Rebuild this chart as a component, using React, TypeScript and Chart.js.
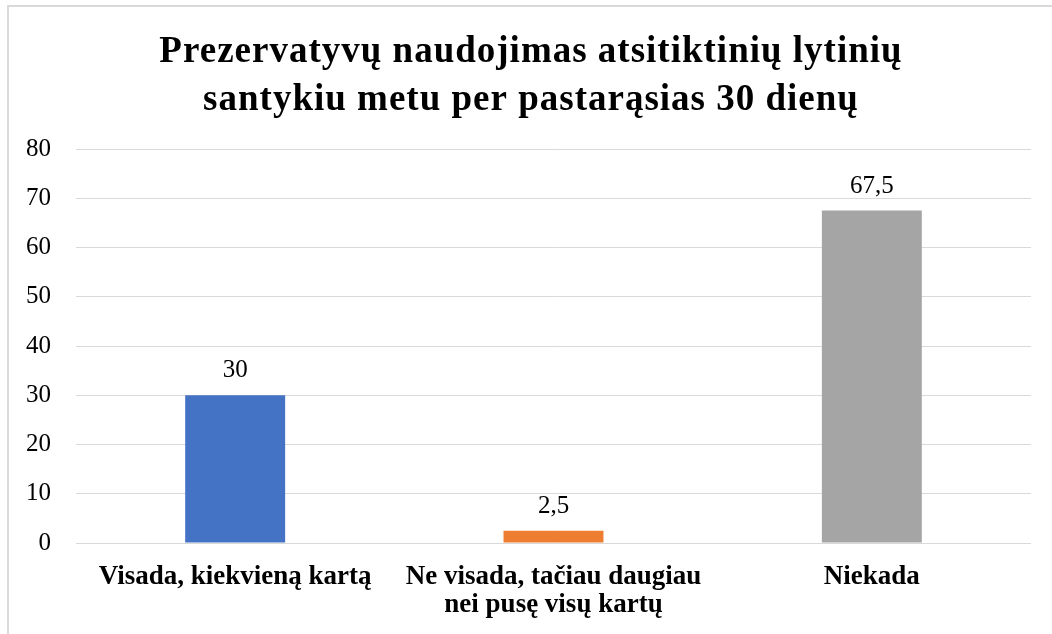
import React, { useEffect, useRef } from "react";
import { Chart, registerables } from "chart.js";

Chart.register(...registerables);

const titleLines = ["Prezervatyvų naudojimas atsitiktinių lytinių", "santykiu metu per pastarąsias 30 dienų"];
const categories: (string | string[])[] = [
  "Visada, kiekvieną kartą",
  ["Ne visada, tačiau daugiau", "nei pusę visų kartų"],
  "Niekada",
];
const values = [30, 2.5, 67.5];
const barColors = ["#4472C4", "#ED7D31", "#A5A5A5"];
const yMin = 0;
const yMax = 80;
const yStep = 10;

const FONT = "'Liberation Serif', 'Times New Roman', serif";

const titlePlugin = {
  id: "customTitle",
  afterDraw(chart: any) {
    const ctx = chart.ctx;
    ctx.save();
    ctx.font = `bold 37px ${FONT}`;
    (ctx as any).letterSpacing = "1px";
    ctx.fillStyle = "#000000";
    ctx.textAlign = "center";
    ctx.textBaseline = "alphabetic";
    ctx.fillText(titleLines[0], 531, 62);
    ctx.fillText(titleLines[1], 531, 110);
    ctx.restore();
  },
};

const valueLabels = {
  id: "valueLabels",
  afterDatasetsDraw(chart: any) {
    const ctx = chart.ctx;
    const meta = chart.getDatasetMeta(0);
    ctx.save();
    ctx.font = `25px ${FONT}`;
    ctx.fillStyle = "#000000";
    ctx.textAlign = "center";
    ctx.textBaseline = "alphabetic";
    meta.data.forEach((bar: any, i: number) => {
      const v = chart.data.datasets[0].data[i];
      ctx.fillText(String(v).replace(".", ","), bar.x, bar.y - 18);
    });
    ctx.restore();
  },
};

export default function App() {
  const ref = useRef<HTMLCanvasElement | null>(null);
  useEffect(() => {
    if (!ref.current) return;
    const chart = new Chart(ref.current, {
      type: "bar",
      data: {
        labels: categories,
        datasets: [
          {
            data: values,
            backgroundColor: barColors,
            borderWidth: 0,
            barPercentage: 0.314,
            categoryPercentage: 1,
          },
        ],
      },
      options: {
        responsive: false,
        animation: false,
        layout: { padding: { left: 0, right: 21, top: 149, bottom: 0 } },
        plugins: {
          legend: { display: false },
          tooltip: { enabled: false },
          title: { display: false },
        },
        scales: {
          x: {
            grid: { display: false, drawTicks: false },
            border: { display: false },
            ticks: {
              color: "#000000",
              font: { family: FONT, size: 27, weight: "bold", lineHeight: 1.04 },
              padding: 20,
              maxRotation: 0,
              autoSkip: false,
            },
            afterFit(scale: any) {
              scale.height = 91;
            },
          },
          y: {
            min: yMin,
            max: yMax,
            grid: { color: "#D9D9D9", lineWidth: 1, drawTicks: false },
            border: { display: false },
            ticks: {
              stepSize: yStep,
              color: "#000000",
              font: { family: FONT, size: 25 },
              padding: 25,
            },
            afterFit(scale: any) {
              scale.width = 76;
            },
          },
        },
      },
      plugins: [valueLabels, titlePlugin],
    });
    return () => chart.destroy();
  }, []);

  return (
    <div style={{ position: "fixed", left: 0, top: 0, width: 1052, height: 634, overflow: "hidden", background: "#ffffff" }}>
      <div
        style={{
          position: "absolute",
          left: 7,
          top: 5,
          width: 1100,
          height: 700,
          borderLeft: "2px solid #D9D9D9",
          borderTop: "2px solid #D9D9D9",
        }}
      />
      <canvas ref={ref} width={1052} height={634} style={{ position: "absolute", left: 0, top: 0 }} />
    </div>
  );
}
